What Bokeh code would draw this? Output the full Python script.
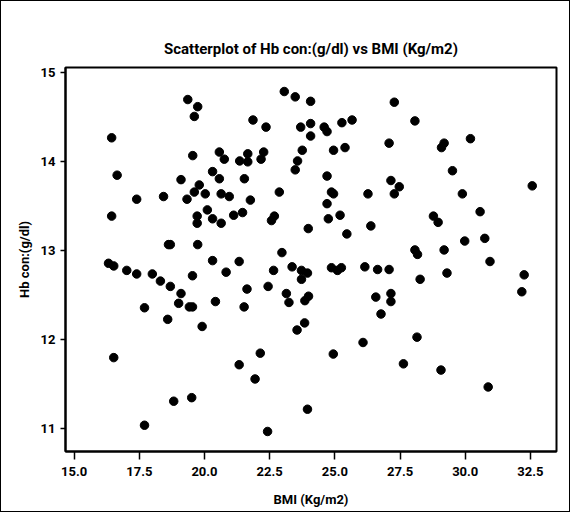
from bokeh.plotting import figure
from bokeh.models import FixedTicker, Range1d, ColumnDataSource
from bokeh.embed import file_html
from bokeh.resources import INLINE

# BMI (Kg/m2)
bmi = [19.36, 19.74, 19.61, 16.44, 19.55, 20.57, 20.76, 16.65, 19.10, 20.31,
       20.57, 19.80, 19.61, 20.03, 20.64, 20.95, 17.40, 18.43, 19.33, 16.44,
       20.11, 20.31, 20.64, 19.72, 19.72, 21.12, 23.06, 23.48, 24.07, 27.28,
       21.86, 22.36, 23.69, 24.07, 24.07, 24.59, 24.70, 25.27, 25.66, 28.07,
       27.08, 21.66, 21.66, 21.35, 22.27, 22.17, 23.75, 24.95, 25.39, 23.57,
       23.48, 21.53, 24.70, 27.15, 27.47, 27.28, 21.76, 22.87, 24.87, 24.95,
       26.27, 24.70, 21.46, 22.68, 22.57, 23.98, 24.75, 25.20, 26.38, 25.46,
       30.20, 29.19, 29.09, 29.51, 32.57, 29.89, 30.57, 28.78, 28.96, 18.62,
       18.69, 19.74, 20.31, 16.32, 16.52, 17.02, 17.40, 18.00, 18.31, 18.69,
       19.10, 19.54, 20.83, 17.70, 19.01, 19.42, 19.54, 20.42, 18.59, 19.91,
       16.52, 18.82, 19.51, 17.70, 22.97, 21.33, 22.65, 23.36, 23.72, 23.95,
       23.72, 24.87, 25.10, 25.25, 26.15, 26.64, 27.08, 21.63, 21.52, 22.44,
       23.14, 23.24, 23.99, 23.85, 26.57, 27.15, 27.15, 26.77, 23.84, 23.55,
       22.14, 21.33, 24.94, 26.08, 27.63, 21.94, 23.95, 22.42, 29.98, 30.75,
       28.07, 28.17, 29.19, 30.95, 32.26, 32.17, 28.27, 29.30, 28.15, 29.07,
       30.88]

# Hb con:(g/dl)
hb = [14.70, 14.62, 14.51, 14.27, 14.07, 14.11, 14.03, 13.85, 13.80, 13.89,
      13.81, 13.74, 13.66, 13.64, 13.64, 13.61, 13.58, 13.61, 13.58, 13.39,
      13.46, 13.36, 13.31, 13.39, 13.31, 13.40, 14.79, 14.73, 14.68, 14.67,
      14.47, 14.39, 14.39, 14.43, 14.29, 14.39, 14.34, 14.44, 14.47, 14.46,
      14.21, 14.09, 14.00, 14.01, 14.11, 14.03, 14.13, 14.13, 14.16, 14.01,
      13.91, 13.81, 13.84, 13.79, 13.72, 13.64, 13.57, 13.66, 13.66, 13.64,
      13.64, 13.53, 13.43, 13.39, 13.34, 13.25, 13.36, 13.40, 13.28, 13.19,
      14.26, 14.21, 14.16, 13.90, 13.73, 13.64, 13.44, 13.39, 13.32, 13.07,
      13.07, 13.07, 12.89, 12.86, 12.83, 12.78, 12.74, 12.74, 12.66, 12.60,
      12.52, 12.72, 12.76, 12.36, 12.41, 12.37, 12.37, 12.43, 12.23, 12.15,
      11.80, 11.31, 11.35, 11.04, 12.98, 12.88, 12.78, 12.82, 12.78, 12.75,
      12.68, 12.81, 12.78, 12.81, 12.82, 12.79, 12.79, 12.57, 12.37, 12.60,
      12.52, 12.42, 12.49, 12.44, 12.48, 12.52, 12.43, 12.29, 12.19, 12.11,
      11.85, 11.72, 11.84, 11.97, 11.73, 11.56, 11.22, 10.97, 13.11, 13.14,
      13.01, 12.96, 13.01, 12.88, 12.73, 12.54, 12.68, 12.75, 12.03, 11.66,
      11.47]

x_ticks = [15.0, 17.5, 20.0, 22.5, 25.0, 27.5, 30.0, 32.5]
y_ticks = [11, 12, 13, 14, 15]

FONT = "Roboto"

p = figure(width=570, height=512, output_backend="svg", toolbar_location=None,
           x_range=Range1d(14.67, 33.5), y_range=Range1d(10.745, 15.06),
           title="Scatterplot of Hb con:(g/dl) vs BMI (Kg/m2)",
           min_border_left=64, min_border_right=15, min_border_top=66,
           min_border_bottom=62)
p.styles = {"border": "1.5px solid black", "box-sizing": "border-box"}

src = ColumnDataSource(dict(x=bmi, y=hb))
p.scatter("x", "y", source=src, size=8.5, fill_color="black", line_color="black")

p.grid.visible = False
p.outline_line_color = "black"
p.outline_line_width = 2
p.background_fill_color = "white"
p.border_fill_color = "white"

p.title.text_font = FONT
p.title.text_font_size = "15px"
p.title.text_font_style = "bold"
p.title.text_color = "black"
p.title.align = "center"
p.title.offset = -20
p.title.standoff = 20

p.xaxis.ticker = FixedTicker(ticks=x_ticks)
p.yaxis.ticker = FixedTicker(ticks=y_ticks)
p.xaxis.major_label_overrides = {t: f"{t:.1f}" for t in x_ticks}
p.yaxis.major_label_overrides = {t: f"{t:d}" for t in y_ticks}
p.xaxis.axis_label = "BMI (Kg/m2)"
p.yaxis.axis_label = "Hb con:(g/dl)"

for ax in (p.xaxis, p.yaxis):
    ax.axis_line_color = "black"
    ax.axis_line_width = 2
    ax.major_tick_in = 0
    ax.major_tick_line_color = "black"
    ax.major_tick_line_width = 1.5
    ax.minor_tick_line_color = None
    ax.major_label_text_font = FONT
    ax.major_label_text_font_size = "13px"
    ax.major_label_text_font_style = "bold"
    ax.major_label_text_color = "black"
    ax.axis_label_text_font = FONT
    ax.axis_label_text_font_size = "13px"
    ax.axis_label_text_font_style = "bold"
    ax.axis_label_text_color = "black"
p.xaxis.major_tick_out = 8
p.yaxis.major_tick_out = 5
p.xaxis.major_label_standoff = 7
p.yaxis.major_label_standoff = 5
p.xaxis.axis_label_standoff = 13
p.yaxis.axis_label_standoff = 6

open("out.html", "w").write(file_html(p, INLINE))
